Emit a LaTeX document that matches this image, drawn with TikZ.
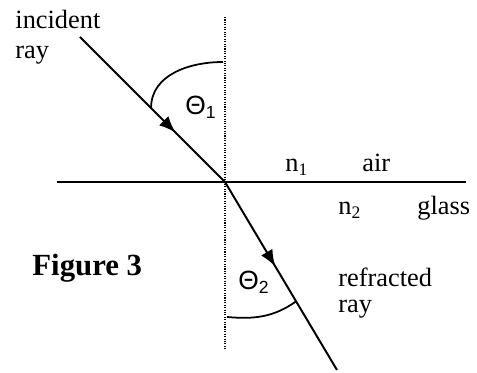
\documentclass[tikz,border=0pt]{standalone}
\usepackage{fontspec}
\setmainfont{Liberation Serif}
\setsansfont{Liberation Sans}
\usepackage{tikz}
\usetikzlibrary{arrows.meta, calc, decorations.markings}

\begin{document}
\begin{tikzpicture}[
    x=0.455pt, y=-0.455pt,
    ray/.style={line width=0.9pt},
    midarrow/.style={postaction={decorate}, decoration={markings, mark=at position #1 with {\arrow{Latex[length=7.5pt,width=6pt]}}}},
    surface/.style={line width=0.9pt},
    normalline/.style={line width=0.5pt, dash pattern=on 0.5pt off 0.6pt},
    anglearc/.style={line width=0.8pt},
    txt/.style={inner sep=0pt, anchor=base west, font=\fontsize{12}{13.8}\selectfont},
    angletxt/.style={inner sep=0pt, anchor=base west, font=\sffamily\fontsize{12}{14}\selectfont}
]
\useasboundingbox (0,0) rectangle (477,373);

% Define coordinates for the surface, the normal and the rays
\coordinate (hit) at (225,182);
\coordinate (src) at (80,37);
\coordinate (exit) at (337,370);
\coordinate (surfL) at (57,182);
\coordinate (surfR) at (466,182);
\coordinate (normT) at (225,17);
\coordinate (normB) at (225,350);

% Draw the normal and the surface
\draw[normalline] (normT) -- (normB);
\draw[surface] (surfL) -- (surfR);

% Draw the rays
\draw[ray, midarrow=0.66] (src) -- (hit);
\draw[ray, midarrow=0.45] (hit) -- (exit);

% Add the angle arcs
\coordinate (a1) at ($(src)!0.49!(hit)$);
\coordinate (n1) at (223,62);
\draw[anglearc] (a1) to[out=90, in=180] (n1);
\coordinate (a2) at ($(hit)!0.635!(exit)$);
\coordinate (n2) at (227,317);
\draw[anglearc] (n2) to[out=-5, in=215] (a2);

% Add labels
\node[txt] (inc) at (15,29) {incident};
\node[txt] (incray) at (15,59) {ray};
\node[angletxt] (th1) at (185,115) {Θ\textsubscript{1}};
\node[txt] (nA) at (285,172) {n\textsubscript{1}};
\node[txt] (air) at (362,172) {air};
\node[txt] (nB) at (338,215) {n\textsubscript{2}};
\node[txt] (glass) at (417,215) {glass};
\node[angletxt] (th2) at (238,290) {Θ\textsubscript{2}};
\node[txt] (refr) at (338,287) {refracted};
\node[txt] (refray) at (338,313) {ray};
\node[txt, font=\bfseries\fontsize{14}{16}\selectfont] (fig) at (32,276) {Figure 3};

\end{tikzpicture}
\end{document}
